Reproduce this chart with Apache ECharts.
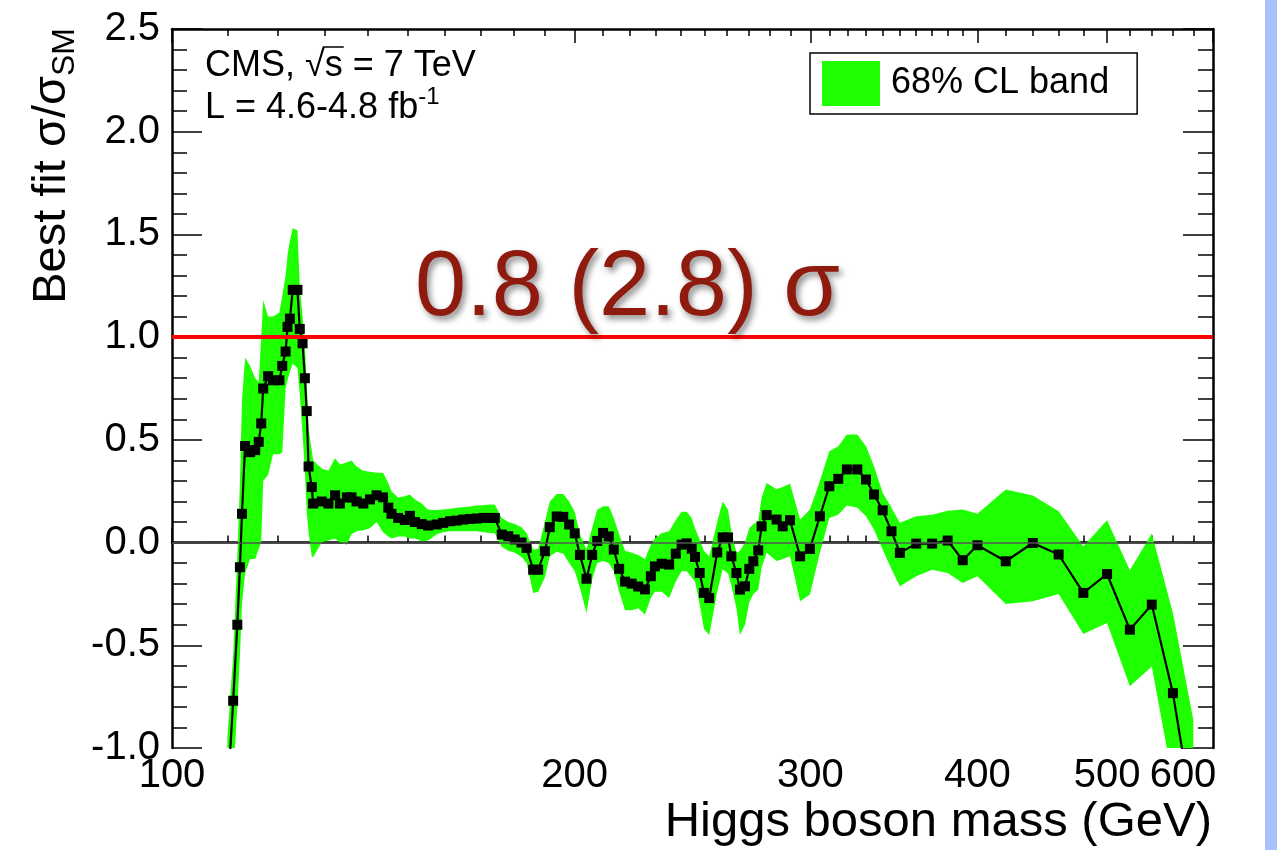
<!DOCTYPE html>
<html>
<head>
<meta charset="utf-8">
<script src="https://cdn.jsdelivr.net/npm/echarts@6/dist/echarts.min.js"></script>
<style>
  html, body { margin: 0; padding: 0; background: #ffffff; }
  #chart { width: 1277px; height: 850px; }
</style>
</head>
<body>
<div id="chart"></div>
<script>
// Higgs boson mass points (GeV)
const massGeV = [
  110.0, 111.1, 111.9, 112.4, 112.8, 113.4, 114.4, 115.4, 116.1, 116.6,
  117.0, 118.0, 119.0, 120.3, 120.9, 121.6, 122.0, 122.5, 123.1, 124.1,
  124.6, 125.2, 125.7, 126.1, 126.5, 127.2, 127.5, 129.4, 130.9, 132.4,
  133.5, 135.1, 136.2, 137.4, 139.0, 140.6, 142.2, 143.8, 145.1, 145.9,
  147.6, 149.3, 150.6, 151.9, 153.7, 155.4, 157.7, 159.5, 161.4, 163.2,
  165.1, 167.0, 169.0, 170.9, 172.9, 174.3, 176.4, 178.4, 180.4, 182.5,
  184.1, 186.2, 187.8, 190.0, 191.6, 193.9, 196.1, 198.1, 200.0, 201.8,
  204.1, 206.1, 207.9, 210.0, 212.1, 213.9, 215.9, 218.1, 220.6, 223.1,
  225.7, 228.0, 229.6, 232.3, 235.3, 238.0, 240.4, 242.5, 244.6, 246.0,
  248.0, 249.8, 252.1, 255.6, 258.0, 260.4, 261.9, 264.2, 265.8, 268.1,
  270.1, 272.0, 274.3, 275.9, 278.3, 283.1, 286.1, 289.7, 294.8, 299.8,
  305.0, 310.0, 314.8, 319.5, 325.3, 330.2, 334.8, 339.8, 345.0, 350.0,
  360, 370, 380, 390, 400, 420, 440, 460, 480, 500,
  520, 540, 560, 580
];

// Best fit sigma/sigma_SM
const bestFit = [
  -1.25, -0.77, -0.40, -0.12, 0.14, 0.47, 0.44, 0.45, 0.49, 0.58,
  0.75, 0.81, 0.79, 0.79, 0.86, 0.93, 1.05, 1.09, 1.23, 1.23,
  1.04, 0.97, 0.80, 0.64, 0.37, 0.27, 0.19, 0.20, 0.19, 0.23,
  0.19, 0.22, 0.22, 0.20, 0.19, 0.21, 0.23, 0.22, 0.17, 0.14,
  0.12, 0.11, 0.13, 0.10, 0.09, 0.083, 0.088, 0.096, 0.104, 0.107,
  0.112, 0.115, 0.117, 0.12, 0.12, 0.12, 0.039, 0.031, 0.015, 0.0,
  -0.026, -0.132, -0.132, -0.042, 0.075, 0.127, 0.125, 0.088, 0.045, -0.06,
  -0.176, -0.06, 0.008, 0.047, 0.03, -0.034, -0.128, -0.19, -0.20, -0.214,
  -0.228, -0.164, -0.116, -0.103, -0.107, -0.054, -0.01, -0.004, -0.03, -0.07,
  -0.148, -0.245, -0.27, -0.048, 0.025, 0.025, -0.067, -0.148, -0.229, -0.213,
  -0.128, -0.091, -0.038, 0.079, 0.134, 0.112, 0.079, 0.109, -0.067, -0.031,
  0.128, 0.274, 0.31, 0.356, 0.356, 0.307, 0.234, 0.157, 0.055, -0.05,
  -0.005, -0.005, 0.01, -0.086, -0.013, -0.091, -0.002, -0.058, -0.245, -0.153,
  -0.424, -0.302, -0.733, -1.34
];

// 68% CL band, lower edge
const band68Low = [
  -1.60, -1.15, -0.80, -0.55, -0.30, -0.15, -0.08, -0.08, -0.03, 0.00,
  0.30, 0.33, 0.43, 0.43, 0.44, 0.75, 0.79, 0.83, 0.87, 0.85,
  0.72, 0.53, 0.35, 0.15, 0.05, -0.07, -0.07, 0.00, 0.01, 0.02,
  0.00, -0.01, 0.04, 0.055, 0.06, 0.07, 0.10, 0.05, 0.03, 0.02,
  0.03, 0.03, 0.02, 0.02, 0.006, 0.01, 0.04, 0.05, 0.055, 0.055,
  0.055, 0.055, 0.055, 0.05, 0.047, 0.045, -0.02, -0.04, -0.05, -0.07,
  -0.10, -0.245, -0.24, -0.17, -0.066, -0.045, -0.055, -0.10, -0.14, -0.22,
  -0.343, -0.18, -0.10, -0.09, -0.10, -0.14, -0.24, -0.33, -0.33, -0.32,
  -0.35, -0.27, -0.24, -0.24, -0.27, -0.19, -0.14, -0.14, -0.17, -0.19,
  -0.30, -0.42, -0.45, -0.24, -0.13, -0.15, -0.21, -0.32, -0.45, -0.40,
  -0.29, -0.25, -0.23, -0.12, -0.05, -0.09, -0.08, -0.067, -0.286, -0.253,
  -0.05, 0.12, 0.136, 0.18, 0.169, 0.128, 0.063, -0.034, -0.13, -0.213,
  -0.164, -0.132, -0.148, -0.197, -0.164, -0.299, -0.286, -0.25, -0.445, -0.391,
  -0.70, -0.603, -1.16, -1.90
];

// 68% CL band, upper edge
const band68High = [
  -0.95, -0.55, -0.06, 0.29, 0.69, 0.90, 0.86, 0.80, 0.78, 1.00,
  1.18, 1.10, 1.10, 1.12, 1.20, 1.30, 1.40, 1.47, 1.53, 1.52,
  1.25, 1.10, 0.95, 0.78, 0.55, 0.45, 0.40, 0.36, 0.35, 0.41,
  0.38, 0.39, 0.40, 0.37, 0.35, 0.345, 0.34, 0.34, 0.29, 0.25,
  0.22, 0.225, 0.234, 0.21, 0.19, 0.16, 0.158, 0.161, 0.165, 0.169,
  0.172, 0.176, 0.18, 0.182, 0.185, 0.185, 0.12, 0.10, 0.09, 0.075,
  0.047, -0.035, -0.03, 0.10, 0.20, 0.237, 0.237, 0.20, 0.15, 0.04,
  -0.034, 0.072, 0.16, 0.177, 0.177, 0.12, 0.04, -0.04, -0.05, -0.06,
  -0.08, -0.01, 0.02, 0.047, 0.055, 0.11, 0.15, 0.15, 0.12, 0.07,
  0.015, -0.04, -0.067, 0.10, 0.20, 0.16, 0.055, -0.05, -0.04, 0.0,
  0.07, 0.09, 0.104, 0.22, 0.29, 0.26, 0.27, 0.287, 0.112, 0.161,
  0.30, 0.445, 0.469, 0.526, 0.526, 0.469, 0.372, 0.242, 0.17, 0.096,
  0.128, 0.136, 0.155, 0.161, 0.14, 0.258, 0.229, 0.153, -0.018, 0.109,
  -0.135, 0.044, -0.343, -0.863
];

// Mass axis: labelled ticks and the finer unlabelled ticks (GeV)
const massMajorTicks = [100, 200, 300, 400, 500, 600];
const massMinorTicks = [
  110, 120, 130, 140, 150, 160, 170, 180, 190,
  210, 220, 230, 240, 250, 260, 270, 280, 290,
  310, 320, 330, 340, 350, 360, 370, 380, 390,
  420, 440, 460, 480, 520, 540, 560, 580
];

const FONT = '"Liberation Sans", Arial, Helvetica, sans-serif';
const GREEN = '#1eff00';
const lg = Math.log10;
const X_MIN = lg(100), X_MAX = lg(600);

const bandData = massGeV.map((m, i) => [lg(m), band68Low[i], band68High[i]]);
const fitSeries = massGeV.map((m, i) => [lg(m), bestFit[i]]);

const majorLog = massMajorTicks.map(lg);
const minorLog = massMinorTicks.map(lg);

// The band is one polygon: upper edge left to right, then lower edge back
function renderBand(params, api) {
  if (params.dataIndex !== 0) return null;
  const pts = [];
  for (let i = 0; i < bandData.length; i++) {
    pts.push(api.coord([bandData[i][0], bandData[i][2]]));
  }
  for (let i = bandData.length - 1; i >= 0; i--) {
    pts.push(api.coord([bandData[i][0], bandData[i][1]]));
  }
  const cs = params.coordSys;
  return {
    type: 'polygon',
    shape: { points: pts },
    style: { fill: GREEN, stroke: null },
    clipPath: { type: 'rect', shape: { x: cs.x, y: cs.y, width: cs.width, height: cs.height } }
  };
}

function massAxis(position, major, showLabels) {
  return {
    type: 'value',
    gridIndex: 0,
    position: position,
    min: X_MIN,
    max: X_MAX,
    axisLine: { show: major, lineStyle: { color: '#000', width: 2.5 } },
    axisTick: {
      show: true,
      inside: true,
      length: major ? 14 : 7,
      customValues: major ? majorLog : minorLog,
      lineStyle: { color: '#000', width: 1.5 }
    },
    axisLabel: showLabels ? {
      show: true,
      customValues: majorLog,
      margin: 8,
      color: '#000',
      fontFamily: FONT,
      fontSize: 40,
      formatter: function (v) {
        const m = Math.round(Math.pow(10, v));
        return m === 600 ? '{last|600}' : String(m);
      },
      rich: { last: { fontFamily: FONT, fontSize: 40, color: '#000', padding: [0, 60, 0, 0] } }
    } : { show: false },
    splitLine: { show: false }
  };
}

function ratioAxis(position, showLabels) {
  return {
    type: 'value',
    position: position,
    min: -1.0,
    max: 2.5,
    interval: 0.5,
    axisLine: { show: true, lineStyle: { color: '#000', width: 2.5 } },
    axisTick: { show: true, inside: true, length: 30, lineStyle: { color: '#000', width: 1.5 } },
    minorTick: { show: true, splitNumber: 5, length: 15, lineStyle: { color: '#000', width: 1.5 } },
    axisLabel: showLabels ? {
      show: true,
      margin: 12,
      color: '#000',
      fontFamily: FONT,
      fontSize: 40,
      formatter: v => v.toFixed(1)
    } : { show: false },
    splitLine: { show: false },
    minorSplitLine: { show: false }
  };
}

// Overline for the square root in the energy label
const measure = document.createElement('canvas').getContext('2d');
measure.font = '36px ' + FONT;
const headX = 205;
const rootEnd = headX + measure.measureText('CMS, \u221A').width;
const sEnd = headX + measure.measureText('CMS, \u221As').width;

const chart = echarts.init(document.getElementById('chart'), null, { renderer: 'canvas' });

chart.setOption({
  animation: false,
  backgroundColor: '#ffffff',
  grid: { left: 172, top: 29, width: 1041, height: 719, containLabel: false },
  xAxis: [
    massAxis('bottom', true, true),
    massAxis('bottom', false, false),
    massAxis('top', true, false),
    massAxis('top', false, false)
  ],
  yAxis: [ratioAxis('left', true), ratioAxis('right', false)],
  legend: {
    left: 810,
    top: 53,
    orient: 'horizontal',
    selectedMode: false,
    itemWidth: 58,
    itemHeight: 45,
    padding: [8, 28, 8, 12],
    backgroundColor: '#ffffff',
    borderColor: '#000000',
    borderWidth: 1.5,
    textStyle: { fontFamily: FONT, fontSize: 36, color: '#000', padding: [0, 0, 0, 6] },
    data: [{ name: '68% CL band', icon: 'rect', itemStyle: { color: GREEN, borderWidth: 0 } }]
  },
  series: [
    {
      name: 'zero',
      type: 'line',
      data: [],
      z: 1,
      markLine: {
        silent: true,
        symbol: ['none', 'none'],
        label: { show: false },
        lineStyle: { type: 'solid', color: '#555555', width: 1.5 },
        data: [{ yAxis: 0 }]
      }
    },
    {
      name: '68% CL band',
      type: 'custom',
      xAxisIndex: 0,
      yAxisIndex: 0,
      data: bandData,
      encode: { x: 0, y: [1, 2] },
      renderItem: renderBand,
      color: GREEN,
      itemStyle: { color: GREEN },
      silent: true,
      z: 2
    },
    {
      name: 'Best fit',
      type: 'line',
      xAxisIndex: 0,
      yAxisIndex: 0,
      data: fitSeries,
      symbol: 'rect',
      symbolSize: 10,
      color: '#000',
      lineStyle: { color: '#000', width: 2.2 },
      itemStyle: { color: '#000' },
      silent: true,
      z: 4
    },
    {
      name: 'SM',
      type: 'line',
      data: [],
      z: 6,
      markLine: {
        silent: true,
        symbol: ['none', 'none'],
        label: { show: false },
        lineStyle: { type: 'solid', color: '#ff0000', width: 4 },
        data: [{ yAxis: 1.0 }]
      }
    }
  ],
  graphic: [
    {
      type: 'rect',
      left: 1265, top: 0,
      shape: { width: 12, height: 850 },
      style: { fill: '#a9c1ff' },
      silent: true
    },
    {
      type: 'text',
      x: 52, y: 28,
      rotation: Math.PI / 2,
      style: {
        text: 'Best fit \u03C3/\u03C3{sub|SM}',
        fontFamily: FONT,
        fontSize: 47,
        fill: '#000',
        align: 'right',
        verticalAlign: 'middle',
        rich: {
          sub: { fontFamily: FONT, fontSize: 32, fill: '#000', verticalAlign: 'bottom', lineHeight: 30 }
        },
        lineHeight: 58
      },
      silent: true
    },
    {
      type: 'text',
      x: 1212, y: 822,
      style: {
        text: 'Higgs boson mass (GeV)',
        fontFamily: FONT,
        fontSize: 49,
        fill: '#000',
        align: 'right',
        verticalAlign: 'middle'
      },
      silent: true
    },
    {
      type: 'text',
      x: headX, y: 66,
      style: {
        text: 'CMS, \u221As = 7 TeV',
        fontFamily: FONT,
        fontSize: 36,
        fill: '#000',
        align: 'left',
        verticalAlign: 'middle'
      },
      silent: true
    },
    {
      type: 'line',
      shape: { x1: rootEnd - 2, y1: 47, x2: sEnd + 1, y2: 47 },
      style: { stroke: '#000', lineWidth: 1.5 },
      silent: true
    },
    {
      type: 'text',
      x: headX, y: 108,
      style: {
        text: 'L = 4.6-4.8 fb{sup|-1}',
        fontFamily: FONT,
        fontSize: 36,
        fill: '#000',
        align: 'left',
        verticalAlign: 'middle',
        lineHeight: 46,
        rich: {
          sup: { fontFamily: FONT, fontSize: 24, fill: '#000', verticalAlign: 'top', lineHeight: 24 }
        }
      },
      silent: true
    },
    {
      type: 'text',
      x: 415, y: 290,
      z: 100,
      style: {
        text: '0.8 (2.8) \u03C3',
        fontFamily: FONT,
        fontSize: 92,
        fill: '#8e1b0e',
        align: 'left',
        verticalAlign: 'middle',
        textShadowColor: 'rgba(0,0,0,0.45)',
        textShadowBlur: 6,
        textShadowOffsetX: 3,
        textShadowOffsetY: 4
      },
      silent: true
    }
  ]
});
</script>
</body>
</html>
